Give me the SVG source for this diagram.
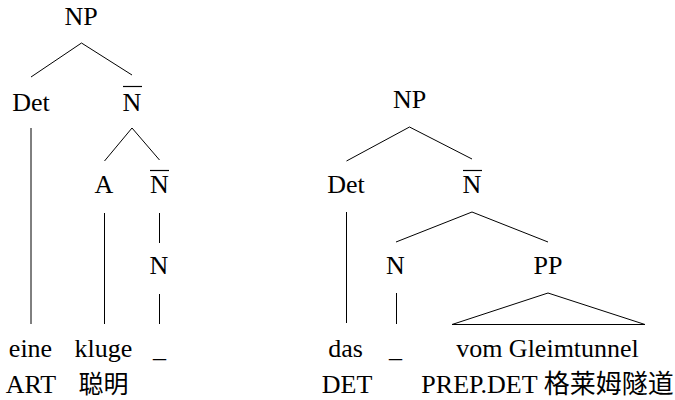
<svg xmlns="http://www.w3.org/2000/svg" width="675" height="400" viewBox="0 0 675 400">
<style>
.e{stroke:#000;stroke-width:1;fill:none}
.ov{stroke:#000;stroke-width:1.2}
text.t{font-family:'Liberation Serif',serif !important;font-size:26px;text-anchor:middle;fill:#000}
</style>
<rect width="675" height="400" fill="#fff"/>
<g id="connectors">
<line class="e" x1="81.5" y1="43" x2="31" y2="77"/>
<line class="e" x1="81.5" y1="43" x2="132" y2="75"/>
<line class="e" x1="132" y1="128" x2="104.5" y2="161"/>
<line class="e" x1="132" y1="128" x2="159.5" y2="160"/>
<line class="e" x1="31" y1="128" x2="31" y2="324" stroke="#555"/>
<line class="e" x1="104.5" y1="213" x2="104.5" y2="324"/>
<line class="e" x1="159.5" y1="213" x2="159.5" y2="243"/>
<line class="e" x1="159.5" y1="294" x2="159.5" y2="324"/>
<line class="e" x1="409.5" y1="127" x2="346.5" y2="161"/>
<line class="e" x1="409.5" y1="127" x2="472" y2="159"/>
<line class="e" x1="346.5" y1="212" x2="346.5" y2="323"/>
<line class="e" x1="472" y1="212" x2="396" y2="242"/>
<line class="e" x1="472" y1="212" x2="548" y2="242"/>
<line class="e" x1="396.5" y1="293" x2="396.5" y2="324"/>
<polygon class="e" points="548,293 452,324.5 645,324.5"/>
</g>
<g id="l-np"><text class="t" x="81" y="25" style="font-family:'Liberation Serif' !important">NP</text></g>
<g id="l-det"><text class="t" x="31" y="111" style="font-family:'Liberation Serif' !important">Det</text></g>
<g id="l-nbar1"><text class="t" x="132" y="111" style="font-family:'Liberation Serif' !important">N</text><line class="ov" x1="123" y1="86.5" x2="142" y2="86.5"/></g>
<g id="l-a"><text class="t" x="104" y="193" style="font-family:'Liberation Serif' !important">A</text></g>
<g id="l-nbar2"><text class="t" x="159.5" y="193" style="font-family:'Liberation Serif' !important">N</text><line class="ov" x1="150" y1="170.5" x2="169" y2="170.5"/></g>
<g id="l-n"><text class="t" x="159" y="274" style="font-family:'Liberation Serif' !important">N</text></g>
<g id="l-eine"><text class="t" x="30.5" y="357" style="font-family:'Liberation Serif' !important">eine</text><text class="t" x="31" y="393" style="font-family:'Liberation Serif' !important">ART</text></g>
<g id="l-kluge"><text class="t" x="103.5" y="357" style="font-family:'Liberation Serif' !important">kluge</text><text x="103.5" y="393" text-anchor="middle" style="font-family:'Noto Sans CJK SC' !important;font-size:25px">聪明</text></g>
<g id="l-gap"><text class="t" x="159.5" y="357" style="font-family:'Liberation Serif' !important">_</text></g>
<g id="r-np"><text class="t" x="409.5" y="108" style="font-family:'Liberation Serif' !important">NP</text></g>
<g id="r-det"><text class="t" x="346" y="193" style="font-family:'Liberation Serif' !important">Det</text></g>
<g id="r-nbar"><text class="t" x="472" y="193" style="font-family:'Liberation Serif' !important">N</text><line class="ov" x1="463" y1="170.5" x2="482" y2="170.5"/></g>
<g id="r-n"><text class="t" x="395.5" y="274" style="font-family:'Liberation Serif' !important">N</text></g>
<g id="r-pp"><text class="t" x="548" y="274" style="font-family:'Liberation Serif' !important">PP</text></g>
<g id="r-das"><text class="t" x="345.5" y="357" style="font-family:'Liberation Serif' !important">das</text><text class="t" x="347" y="393" style="font-family:'Liberation Serif' !important">DET</text></g>
<g id="r-gap"><text class="t" x="395.5" y="357" style="font-family:'Liberation Serif' !important">_</text></g>
<g id="r-vom"><text class="t" x="547.5" y="357" style="font-family:'Liberation Serif' !important">vom Gleimtunnel</text><text class="t" x="547.5" y="393" style="font-family:'Liberation Serif','Noto Sans CJK SC',serif !important">PREP.DET 格莱姆隧道</text></g>
</svg>
